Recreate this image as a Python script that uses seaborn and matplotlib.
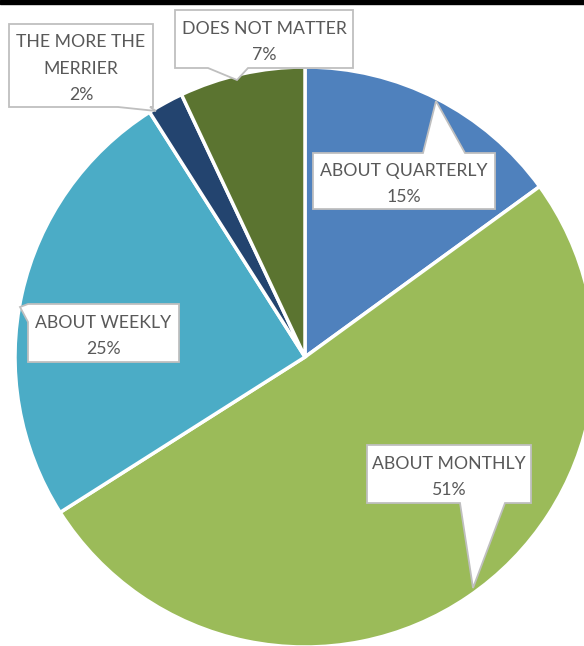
import matplotlib
matplotlib.use('Agg')
import matplotlib.pyplot as plt
import seaborn as sns
from matplotlib.patches import Rectangle, Polygon

# data
categories = ['ABOUT QUARTERLY', 'ABOUT MONTHLY', 'ABOUT WEEKLY', 'THE MORE THE\nMERRIER', 'DOES NOT MATTER']
shares = [15, 51, 25, 2, 7]
colors = ['#4f81bd', '#9bbb59', '#4bacc6', '#23446f', '#5b7430']

sns.set_theme(style='white')
plt.rcParams['font.family'] = ['Lato', 'DejaVu Sans']

fig = plt.figure(figsize=(5.84, 6.46), dpi=100)
ax = fig.add_axes([0, 0, 1, 1])

# y axis is flipped below, so counterclock=True draws clockwise on screen
wedges, _ = ax.pie(shares, colors=sns.color_palette(colors), startangle=-90, counterclock=True,
                   center=(305, 357), radius=290, frame=True,
                   wedgeprops=dict(edgecolor='white', linewidth=2.5))
ax.set_xlim(0, 584)
ax.set_ylim(646, 0)   # pixel-like coords, y down
ax.set_aspect('equal')
ax.axis('off')


def callout(box, side, b1, b2, tip):
    x0, y0, x1, y1 = box
    pts = [(x0, y0)]
    if side == 'top':
        pts += [(b1, y0), tip, (b2, y0)]
    pts += [(x1, y0), (x1, y1)]
    if side == 'bottom':
        pts += [(b2, y1), tip, (b1, y1)]
    pts += [(x0, y1)]
    if side == 'left':
        pts += [(x0, b2), tip, (x0, b1)]
    return Polygon(pts, closed=True, fc='white', ec='#bfbfbf', lw=1.3, zorder=5)


# callout boxes: (x0, y0, x1, y1), pointer side, pointer base, pointer tip
boxes = [((313, 153, 495, 209), 'top', 423, 465, (436, 101)),
         ((367, 445, 531, 503), 'bottom', 460, 505, (473, 588)),
         ((28, 304, 179, 362), 'left', 304, 322, (20, 307)),
         ((9, 24, 153, 107), 'bottom', 118, 150, (156, 111)),
         ((175, 10, 353, 68), 'bottom', 208, 248, (237, 80))]

for name, val, (box, side, b1, b2, tip) in zip(categories, shares, boxes):
    ax.add_patch(callout(box, side, b1, b2, tip))
    cx = (box[0] + box[2]) / 2
    cy = (box[1] + box[3]) / 2 + 3
    ax.text(cx, cy, f'{name}\n{val}%', ha='center', va='center', fontsize=12.7,
            color='#595959', linespacing=1.78, zorder=6)

fig.add_artist(Rectangle((0, 1 - 4 / 646), 1, 4 / 646, transform=fig.transFigure,
                         color='black', zorder=10))

fig.savefig('out.png', dpi=100, facecolor='white')
